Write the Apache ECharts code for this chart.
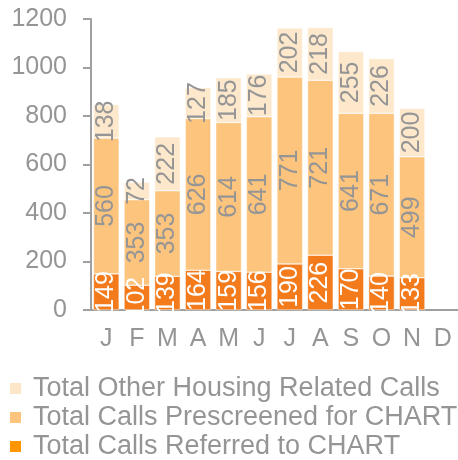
<!DOCTYPE html>
<html>
<head>
<meta charset="utf-8">
<script src="https://cdn.jsdelivr.net/npm/echarts@6/dist/echarts.min.js"></script>
<style>
  html, body { margin: 0; padding: 0; background: #fff; }
  #root { width: 458px; height: 460px; }
</style>
</head>
<body>
<div id="root"></div>
<script>
var months = ['J', 'F', 'M', 'A', 'M', 'J', 'J', 'A', 'S', 'O', 'N', 'D'];
var referred = [149, 102, 139, 164, 159, 156, 190, 226, 170, 140, 133, null];
var prescreened = [560, 353, 353, 626, 614, 641, 771, 721, 641, 671, 499, null];
var otherCalls = [138, 72, 222, 127, 185, 176, 202, 218, 255, 226, 200, null];

var grey = '#959595';
var font = 'Liberation Sans, Arial, sans-serif';

var dom = document.getElementById('root');
var myChart = echarts.init(dom, null, { renderer: 'canvas' });

// label inside each segment, rotated to read bottom-to-top
var segLabel = function (color) {
  return {
    show: true,
    position: 'inside',
    rotate: 90,
    color: color,
    fontSize: 25,
    fontFamily: font
  };
};

var option = {
  animation: false,
  textStyle: { fontFamily: font },
  grid: { left: 91, top: 19, width: 373, height: 291 },
  legend: {
    orient: 'vertical',
    left: 3,
    top: 370,
    height: 120,
    itemWidth: 13,
    itemHeight: 13,
    itemGap: 2,
    icon: 'rect',
    textStyle: { color: grey, fontSize: 27, lineHeight: 27, padding: [0, 0, 0, 6] },
    data: [
      { name: 'Total Other Housing Related Calls', itemStyle: { color: '#fde6c8' } },
      { name: 'Total Calls Prescreened for CHART', itemStyle: { color: '#fcc47c' } },
      { name: 'Total Calls Referred to CHART', itemStyle: { color: '#ff9500' } }
    ]
  },
  xAxis: {
    type: 'category',
    data: months,
    axisLine: { lineStyle: { color: '#a0a0a0', width: 2 } },
    axisTick: { show: false },
    axisLabel: { color: grey, fontSize: 25, margin: 17 }
  },
  yAxis: {
    type: 'value',
    min: 0,
    max: 1200,
    interval: 200,
    axisLine: { show: true, lineStyle: { color: '#a0a0a0', width: 2 } },
    axisTick: { show: true, length: 8, lineStyle: { color: '#a0a0a0', width: 2 } },
    axisLabel: {
      color: grey,
      fontSize: 25,
      margin: 24,
      formatter: function (v) { return String(v); }
    },
    splitLine: { show: false }
  },
  series: [
    {
      name: 'Total Calls Referred to CHART',
      type: 'bar',
      stack: 'calls',
      data: referred,
      barCategoryGap: '16%',
      itemStyle: { color: '#f37b1c', borderColor: '#fff', borderWidth: 0.5 },
      label: segLabel('#ffffff')
    },
    {
      name: 'Total Calls Prescreened for CHART',
      type: 'bar',
      stack: 'calls',
      data: prescreened,
      itemStyle: { color: '#fcc47c', borderColor: '#fff', borderWidth: 0.5 },
      label: segLabel(grey)
    },
    {
      name: 'Total Other Housing Related Calls',
      type: 'bar',
      stack: 'calls',
      data: otherCalls,
      itemStyle: { color: '#fde8cc', borderColor: '#fff', borderWidth: 0.5 },
      label: segLabel(grey)
    }
  ]
};

myChart.setOption(option);
</script>
</body>
</html>
